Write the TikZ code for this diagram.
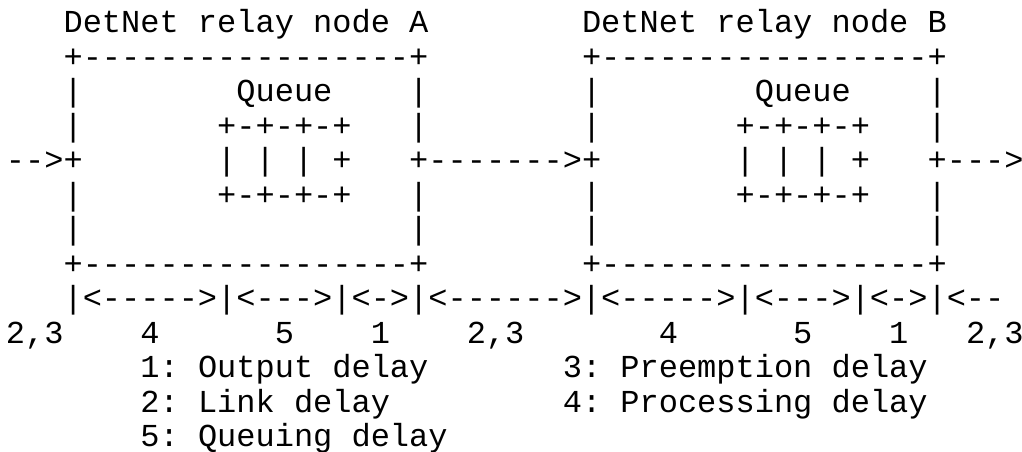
\documentclass[tikz,border=0pt]{standalone}
\usepackage{fontspec}
\setmonofont{Liberation Mono}
\usepackage{tikz}

\tikzset{ascii/.style={anchor=base west, inner sep=0pt, outer sep=0pt, font=\ttfamily\fontsize{24}{24}\selectfont}}

\begin{document}
\begin{tikzpicture}[x=14.4pt, y=-25.875pt]
    \useasboundingbox (-0.3125,0.0435) rectangle (52.917,13.145);
    % relay node A
    \node[ascii] (titleA) at (3,1) {DetNet relay node A};
    \node[ascii] (topA) at (3,2) {+-----------------+};
    \node[ascii] (wallA3) at (3,3) {|};
    \node[ascii] (queueA) at (12,3) {Queue};
    \node[ascii] (wallA3r) at (21,3) {|};
    \node[ascii] (wallA4) at (3,4) {|};
    \node[ascii] (qtopA) at (11,4) {+-+-+-+};
    \node[ascii] (wallA4r) at (21,4) {|};
    \node[ascii] (inA) at (0,5) {-->+};
    \node[ascii] (slotsA) at (11,5) {| | | +};
    \node[ascii] (link) at (21,5) {+------->+};
    \node[ascii] (wallA6) at (3,6) {|};
    \node[ascii] (qbotA) at (11,6) {+-+-+-+};
    \node[ascii] (wallA6r) at (21,6) {|};
    \node[ascii] (wallA7) at (3,7) {|};
    \node[ascii] (wallA7r) at (21,7) {|};
    \node[ascii] (botA) at (3,8) {+-----------------+};
    % relay node B
    \node[ascii] (titleB) at (30,1) {DetNet relay node B};
    \node[ascii] (topB) at (30,2) {+-----------------+};
    \node[ascii] (wallB3) at (30,3) {|};
    \node[ascii] (queueB) at (39,3) {Queue};
    \node[ascii] (wallB3r) at (48,3) {|};
    \node[ascii] (wallB4) at (30,4) {|};
    \node[ascii] (qtopB) at (38,4) {+-+-+-+};
    \node[ascii] (wallB4r) at (48,4) {|};
    \node[ascii] (slotsB) at (38,5) {| | | +};
    \node[ascii] (outB) at (48,5) {+--->};
    \node[ascii] (wallB6) at (30,6) {|};
    \node[ascii] (qbotB) at (38,6) {+-+-+-+};
    \node[ascii] (wallB6r) at (48,6) {|};
    \node[ascii] (wallB7) at (30,7) {|};
    \node[ascii] (wallB7r) at (48,7) {|};
    \node[ascii] (botB) at (30,8) {+-----------------+};
    % delay spans
    \node[ascii] (spans) at (3,9) {|<----->|<--->|<->|<------>|<----->|<--->|<->|<--};
    \node[ascii] (dlink0) at (0,10) {2,3};
    \node[ascii] (dprocA) at (7,10) {4};
    \node[ascii] (dqueueA) at (14,10) {5};
    \node[ascii] (doutA) at (19,10) {1};
    \node[ascii] (dlink1) at (24,10) {2,3};
    \node[ascii] (dprocB) at (34,10) {4};
    \node[ascii] (dqueueB) at (41,10) {5};
    \node[ascii] (doutB) at (46,10) {1};
    \node[ascii] (dlink2) at (50,10) {2,3};
    % legend
    \node[ascii] (key1) at (7,11) {1: Output delay};
    \node[ascii] (key3) at (29,11) {3: Preemption delay};
    \node[ascii] (key2) at (7,12) {2: Link delay};
    \node[ascii] (key4) at (29,12) {4: Processing delay};
    \node[ascii] (key5) at (7,13) {5: Queuing delay};
\end{tikzpicture}
\end{document}
